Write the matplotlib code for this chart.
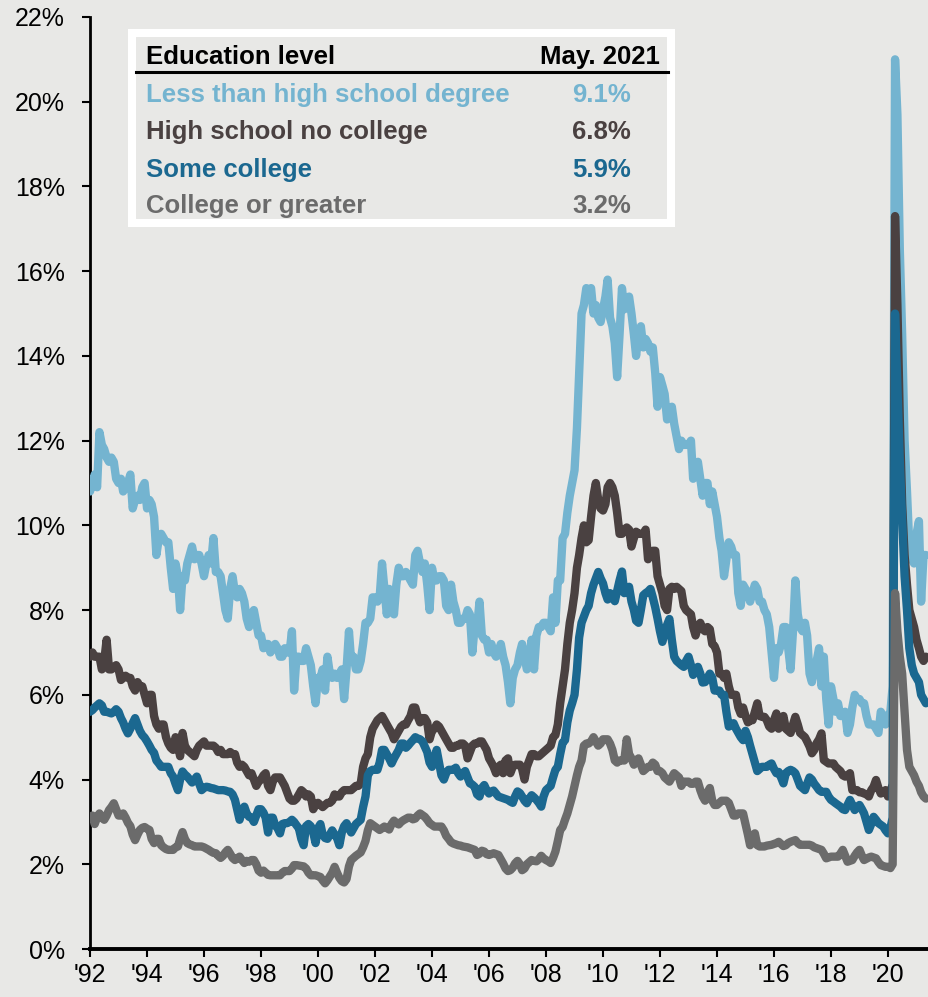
import numpy as np
import pandas as pd
import matplotlib
matplotlib.use('Agg')
import matplotlib.pyplot as plt
from matplotlib.patches import Rectangle
from matplotlib.lines import Line2D

plt.rcParams['font.family'] = ['Liberation Sans', 'DejaVu Sans']

# ---------------- data (monthly, Jan 1992 - May 2021, %) ----------------
start_month = '1992-01-01'

less_than_hs = [
    10.8, 11.0, 11.2, 10.9, 12.2, 11.9, 11.8, 11.6, 11.5, 11.6, 11.5, 11.1,  # 1992
    11.0, 11.1, 10.8, 10.9, 11.0, 11.2, 10.4, 10.6, 10.7, 10.6, 10.9, 11.0,  # 1993
    10.4, 10.6, 10.5, 10.2, 9.3, 9.7, 9.8, 9.7, 9.6, 9.6, 9.0, 8.5,          # 1994
    9.1, 8.8, 8.0, 8.8, 8.7, 9.1, 9.3, 9.5, 9.2, 9.3, 9.3, 9.1,              # 1995
    8.8, 9.1, 9.3, 9.1, 9.7, 8.9, 8.9, 8.8, 8.4, 8.0, 7.8, 8.5,              # 1996
    8.8, 8.4, 8.3, 8.5, 8.4, 8.2, 7.8, 7.6, 7.9, 8.0, 7.7, 7.4,              # 1997
    7.4, 7.1, 7.2, 7.2, 7.0, 7.1, 7.2, 7.1, 6.9, 6.9, 7.1, 7.0,              # 1998
    7.0, 7.5, 6.1, 6.9, 6.9, 6.8, 6.8, 7.1, 6.9, 6.7, 6.2, 5.8,              # 1999
    6.4, 6.4, 6.6, 6.1, 6.9, 6.5, 6.4, 6.5, 6.4, 6.5, 6.6, 5.9,              # 2000
    6.6, 7.5, 6.8, 6.9, 6.6, 6.6, 6.8, 7.2, 7.7, 7.7, 7.8, 8.3,              # 2001
    8.3, 8.2, 8.3, 9.1, 8.5, 7.9, 8.5, 8.3, 7.9, 8.6, 9.0, 8.8,              # 2002
    8.8, 8.9, 8.8, 8.7, 8.6, 9.3, 9.4, 9.1, 8.9, 9.1, 8.6, 8.0,              # 2003
    9.0, 8.7, 8.7, 8.8, 8.8, 8.7, 8.1, 8.0, 8.6, 8.2, 8.0, 7.7,              # 2004
    7.7, 7.8, 7.8, 8.0, 7.9, 7.0, 7.6, 7.6, 8.2, 7.4, 7.3, 7.3,              # 2005
    7.0, 7.2, 7.0, 6.9, 7.0, 7.2, 6.9, 6.7, 6.3, 5.8, 6.4, 6.6,              # 2006
    6.7, 7.0, 7.2, 6.9, 6.6, 6.8, 7.3, 6.6, 7.4, 7.6, 7.6, 7.7,              # 2007
    7.7, 7.6, 7.5, 8.3, 7.7, 8.7, 8.7, 9.7, 9.8, 10.3, 10.7, 11.0,           # 2008
    11.3, 12.3, 13.6, 15.0, 15.2, 15.6, 15.5, 15.6, 15.0, 15.2, 14.9, 14.8,  # 2009
    15.1, 15.4, 15.8, 14.9, 14.7, 14.3, 13.5, 14.5, 15.6, 15.1, 15.2, 15.4,  # 2010
    15.0, 14.5, 14.0, 14.5, 14.7, 14.2, 14.4, 14.3, 14.1, 14.2, 13.6, 12.8,  # 2011
    13.5, 13.3, 13.1, 12.5, 12.7, 12.8, 12.4, 12.1, 11.8, 12.0, 11.9, 11.9,  # 2012
    11.9, 12.0, 11.1, 11.4, 11.5, 11.1, 10.7, 11.0, 11.0, 10.5, 10.8, 10.5,  # 2013
    10.2, 9.7, 9.4, 8.8, 9.2, 9.6, 9.5, 9.3, 9.3, 8.4, 8.1, 8.6,             # 2014
    8.5, 8.4, 8.2, 8.4, 8.6, 8.5, 8.2, 8.2, 8.0, 7.9, 7.6, 7.0,              # 2015
    6.4, 7.1, 7.0, 7.2, 7.6, 7.6, 7.1, 6.6, 7.5, 8.7, 7.9, 7.6,              # 2016
    7.5, 7.7, 7.4, 6.5, 6.3, 6.6, 6.8, 7.1, 6.2, 6.9, 5.9, 5.3,              # 2017
    6.2, 5.9, 5.6, 5.8, 5.5, 5.5, 5.6, 5.1, 5.3, 5.7, 6.0, 5.9,              # 2018
    5.9, 5.8, 5.8, 5.5, 5.3, 5.3, 5.3, 5.2, 5.1, 5.6, 5.5, 5.3,              # 2019
    5.5, 5.6, 6.2, 21.0, 19.7, 16.5, 14.5, 12.0, 10.8, 9.5, 9.2, 9.1,        # 2020
    9.8, 10.1, 8.2, 9.3, 9.3,                                                # 2021
]

high_school = [
    6.9, 7.0, 6.9, 6.9, 6.9, 6.6, 6.8, 7.3, 6.6, 6.6, 6.65, 6.7,
    6.6, 6.35, 6.4, 6.45, 6.4, 6.4, 6.2, 6.1, 6.3, 6.2, 6.2, 6.0,
    5.8, 6.0, 6.0, 5.5, 5.3, 5.2, 5.3, 5.3, 5.0, 4.85, 4.75, 4.7,
    5.0, 4.8, 4.55, 5.1, 4.8, 4.7, 4.65, 4.6, 4.55, 4.7, 4.8, 4.85,
    4.9, 4.8, 4.8, 4.8, 4.8, 4.75, 4.65, 4.7, 4.6, 4.6, 4.6, 4.65,
    4.6, 4.6, 4.4, 4.3, 4.35, 4.3, 4.2, 4.1, 4.15, 4.0, 3.85, 3.95,
    4.0, 4.1, 4.15, 3.85, 3.75, 3.95, 4.05, 4.05, 4.05, 3.95, 3.85, 3.7,
    3.55, 3.5, 3.5, 3.55, 3.65, 3.75, 3.7, 3.6, 3.65, 3.6, 3.3, 3.4,
    3.45, 3.4, 3.35, 3.4, 3.45, 3.45, 3.5, 3.65, 3.6, 3.6, 3.7, 3.75,
    3.75, 3.75, 3.75, 3.8, 3.85, 3.85, 3.9, 4.3, 4.5, 4.6, 5.0, 5.2,
    5.3, 5.4, 5.45, 5.5, 5.4, 5.3, 5.2, 5.1, 4.95, 5.05, 5.15, 5.25,
    5.3, 5.3, 5.4, 5.5, 5.7, 5.7, 5.5, 5.35, 5.45, 5.45, 5.35, 4.95,
    5.15, 5.2, 5.3, 5.25, 5.15, 5.05, 4.95, 4.85, 4.75, 4.75, 4.8, 4.8,
    4.85, 4.85, 4.8, 4.5, 4.65, 4.8, 4.85, 4.85, 4.9, 4.9, 4.8, 4.7,
    4.5, 4.4, 4.3, 4.15, 4.3, 4.35, 4.15, 4.45, 4.5, 4.15, 4.3, 4.35,
    4.35, 4.35, 4.25, 4.0, 4.3, 4.45, 4.6, 4.6, 4.55, 4.55, 4.6, 4.65,
    4.7, 4.75, 4.8, 5.0, 5.05, 5.3, 5.8, 6.2, 6.6, 7.2, 7.7, 8.0,
    8.4, 9.0, 9.3, 9.7, 10.0, 9.6, 9.65, 10.2, 10.7, 11.0, 10.6, 10.4,
    10.35, 10.5, 10.9, 11.0, 10.9, 10.7, 10.3, 9.8, 9.8, 9.9, 9.95, 9.9,
    9.5, 9.7, 9.85, 9.8, 9.8, 9.8, 9.9, 9.2, 9.35, 9.4, 9.4, 8.8,
    8.6, 8.4, 8.1, 8.0, 8.5, 8.55, 8.5, 8.55, 8.5, 8.45, 8.1, 8.0,
    7.95, 7.9, 7.6, 7.4, 7.6, 7.7, 7.55, 7.5, 7.6, 7.55, 7.2, 7.15,
    7.0, 6.5, 6.5, 6.4, 6.5, 6.2, 6.0, 6.0, 6.0, 5.7, 5.55, 5.7,
    5.5, 5.35, 5.4, 5.4, 5.6, 5.8, 5.5, 5.48, 5.48, 5.4, 5.25, 5.2,
    5.4, 5.56, 5.2, 5.3, 5.5, 5.2, 5.15, 5.1, 5.3, 5.48, 5.3, 5.1,
    5.05, 5.0, 4.9, 4.78, 4.62, 4.7, 4.86, 4.95, 5.09, 4.46, 4.42, 4.38,
    4.38, 4.38, 4.3, 4.25, 4.2, 4.1, 4.07, 4.1, 4.15, 3.75, 3.75, 3.75,
    3.7, 3.7, 3.67, 3.65, 3.6, 3.75, 3.83, 3.99, 3.8, 3.67, 3.7, 3.75,
    3.6, 3.66, 3.9, 17.3, 15.2, 12.5, 10.5, 9.3, 8.6, 8.0, 7.8, 7.6,
    7.3, 7.1, 6.9, 6.8, 6.9,
]

some_college = [
    5.6, 5.64, 5.7, 5.75, 5.8, 5.75, 5.6, 5.6, 5.58, 5.56, 5.6, 5.66,
    5.6, 5.45, 5.35, 5.2, 5.09, 5.2, 5.33, 5.45, 5.3, 5.15, 5.05, 4.99,
    4.9, 4.8, 4.7, 4.63, 4.45, 4.38, 4.3, 4.3, 4.3, 4.3, 4.15, 4.07,
    3.9, 3.75, 4.0, 4.19, 4.12, 4.07, 4.0, 3.93, 4.0, 4.07, 3.9, 3.75,
    3.8, 3.83, 3.82, 3.8, 3.79, 3.77, 3.75, 3.75, 3.75, 3.74, 3.72, 3.71,
    3.65, 3.52, 3.3, 3.05, 3.25, 3.36, 3.2, 3.12, 3.1, 3.0, 3.15, 3.3,
    3.3, 3.22, 3.1, 2.75, 3.1, 3.1, 2.92, 2.85, 2.73, 2.95, 2.97, 2.97,
    3.0, 3.05, 3.0, 2.92, 2.85, 2.6, 2.45, 2.9, 2.95, 2.9, 2.75, 2.5,
    2.85, 2.95, 2.7, 2.62, 2.6, 2.7, 2.8, 2.7, 2.62, 2.45, 2.75, 2.9,
    2.97, 2.85, 2.75, 2.85, 2.95, 3.0, 3.05, 3.35, 3.6, 4.1, 4.2, 4.23,
    4.23, 4.23, 4.4, 4.7, 4.7, 4.6, 4.5, 4.38, 4.5, 4.6, 4.7, 4.85,
    4.85, 4.75, 4.8, 4.87, 4.93, 5.0, 4.97, 4.95, 4.9, 4.78, 4.65, 4.4,
    4.3, 4.5, 4.7, 4.4, 4.1, 4.0, 4.15, 4.23, 4.23, 4.23, 4.28, 4.15,
    4.07, 4.15, 4.2, 4.05, 3.91, 3.88, 3.83, 3.65, 3.6, 3.8, 3.87, 3.75,
    3.67, 3.72, 3.74, 3.67, 3.6, 3.58, 3.56, 3.54, 3.52, 3.48, 3.45, 3.6,
    3.72, 3.68, 3.6, 3.5, 3.44, 3.55, 3.63, 3.58, 3.52, 3.45, 3.36, 3.6,
    3.75, 3.8, 3.85, 4.05, 4.23, 4.3, 4.6, 4.87, 4.93, 5.35, 5.63, 5.8,
    6.0, 6.6, 7.35, 7.7, 7.85, 8.0, 8.1, 8.4, 8.6, 8.75, 8.9, 8.75,
    8.63, 8.4, 8.25, 8.4, 8.3, 8.21, 8.45, 8.7, 8.91, 8.4, 8.5, 8.55,
    8.2, 8.0, 7.75, 7.7, 8.0, 8.35, 8.4, 8.44, 8.5, 8.3, 8.07, 7.8,
    7.5, 7.25, 7.45, 7.65, 7.79, 7.3, 6.9, 6.8, 6.75, 6.7, 6.66, 6.8,
    6.9, 6.7, 6.47, 6.55, 6.66, 6.5, 6.29, 6.3, 6.4, 6.5, 6.4, 6.1,
    6.1, 6.1, 6.0, 6.0, 5.6, 5.25, 5.3, 5.33, 5.2, 5.1, 5.0, 4.93,
    5.15, 5.0, 4.8, 4.6, 4.4, 4.2, 4.25, 4.3, 4.3, 4.3, 4.35, 4.38,
    4.25, 4.15, 4.18, 4.05, 3.91, 4.15, 4.2, 4.23, 4.2, 4.15, 4.0, 3.85,
    3.8, 3.75, 3.9, 4.05, 4.0, 3.9, 3.83, 3.75, 3.71, 3.71, 3.71, 3.6,
    3.52, 3.48, 3.44, 3.4, 3.36, 3.3, 3.28, 3.4, 3.52, 3.4, 3.28, 3.35,
    3.4, 3.3, 3.2, 3.0, 2.81, 2.95, 3.12, 3.05, 2.97, 2.93, 2.89, 2.8,
    2.73, 2.85, 3.1, 15.0, 13.3, 11.5, 10.2, 8.8, 8.0, 7.1, 6.7, 6.5,
    6.4, 6.3, 6.0, 5.9, 5.8,
]

college = [
    3.1, 3.15, 2.95, 3.1, 3.2, 3.1, 3.05, 3.15, 3.28, 3.35, 3.44, 3.3,
    3.15, 3.15, 3.2, 3.1, 2.98, 2.9, 2.7, 2.57, 2.7, 2.81, 2.86, 2.88,
    2.84, 2.81, 2.6, 2.5, 2.6, 2.6, 2.45, 2.4, 2.36, 2.34, 2.34, 2.34,
    2.4, 2.42, 2.6, 2.76, 2.6, 2.5, 2.47, 2.45, 2.42, 2.42, 2.42, 2.42,
    2.4, 2.37, 2.34, 2.3, 2.27, 2.26, 2.2, 2.15, 2.2, 2.28, 2.34, 2.25,
    2.15, 2.1, 2.14, 2.18, 2.1, 2.03, 2.08, 2.06, 2.1, 2.1, 2.0, 1.85,
    1.8, 1.85, 1.8, 1.75, 1.74, 1.74, 1.74, 1.74, 1.74, 1.8, 1.84, 1.84,
    1.84, 1.9, 1.98, 1.98, 1.97, 1.96, 1.95, 1.9, 1.8, 1.74, 1.74, 1.74,
    1.72, 1.7, 1.62, 1.55, 1.62, 1.71, 1.8, 1.94, 1.8, 1.68, 1.6, 1.57,
    1.65, 1.95, 2.1, 2.15, 2.2, 2.24, 2.28, 2.4, 2.55, 2.8, 2.97, 2.93,
    2.89, 2.85, 2.81, 2.85, 2.89, 2.86, 2.82, 2.95, 3.03, 2.97, 2.94, 3.0,
    3.04, 3.07, 3.1, 3.1, 3.06, 3.08, 3.15, 3.2, 3.16, 3.12, 3.05, 2.97,
    2.93, 2.89, 2.89, 2.89, 2.89, 2.8, 2.67, 2.6, 2.52, 2.49, 2.47, 2.45,
    2.44, 2.42, 2.41, 2.4, 2.38, 2.36, 2.34, 2.22, 2.25, 2.32, 2.3, 2.24,
    2.22, 2.24, 2.26, 2.24, 2.22, 2.12, 2.02, 1.9, 1.84, 1.86, 1.92, 2.02,
    2.08, 2.0, 1.86, 1.9, 2.0, 2.05, 2.1, 2.08, 2.07, 2.12, 2.2, 2.14,
    2.1, 2.07, 2.03, 2.15, 2.3, 2.55, 2.81, 2.88, 3.05, 3.2, 3.4, 3.6,
    3.85, 4.1, 4.3, 4.45, 4.8, 4.85, 4.85, 4.9, 5.0, 4.9, 4.8, 4.85,
    4.95, 4.95, 4.95, 4.85, 4.7, 4.45, 4.4, 4.45, 4.45, 4.45, 4.95, 4.6,
    4.5, 4.35, 4.45, 4.5, 4.35, 4.2, 4.25, 4.3, 4.3, 4.4, 4.35, 4.2,
    4.2, 4.15, 4.05, 4.0, 3.95, 4.05, 4.15, 4.1, 4.05, 3.85, 3.95, 3.95,
    3.95, 3.9, 3.9, 3.95, 3.95, 3.75, 3.6, 3.5, 3.7, 3.8, 3.5, 3.4,
    3.4, 3.45, 3.5, 3.5, 3.5, 3.45, 3.3, 3.15, 3.15, 3.2, 3.2, 3.2,
    2.95, 2.7, 2.45, 2.6, 2.73, 2.45, 2.42, 2.42, 2.42, 2.44, 2.45, 2.46,
    2.48, 2.5, 2.53, 2.48, 2.43, 2.45, 2.5, 2.53, 2.55, 2.57, 2.5, 2.46,
    2.46, 2.46, 2.46, 2.46, 2.44, 2.4, 2.38, 2.36, 2.34, 2.25, 2.14, 2.16,
    2.18, 2.18, 2.18, 2.18, 2.25, 2.34, 2.2, 2.06, 2.08, 2.1, 2.2, 2.28,
    2.34, 2.2, 2.1, 2.13, 2.16, 2.18, 2.16, 2.14, 2.05, 1.98, 1.96, 1.94,
    1.94, 1.91, 2.0, 8.4, 7.5, 6.9, 6.5, 5.6, 4.7, 4.3, 4.2, 4.1,
    3.95, 3.85, 3.7, 3.6, 3.55,
]

series_names = ['Less than high school degree', 'High school no college',
                'Some college', 'College or greater']
latest_values = ['9.1%', '6.8%', '5.9%', '3.2%']
legend_header = ['Education level', 'May. 2021']
y_ticks = list(range(0, 23, 2))
x_tick_years = list(range(1992, 2021, 2))

# ---------------- styling ----------------
W, H = 929, 997
bg = '#e8e8e6'
colors = ['#74b4d0', '#4a4141', '#1b6890', '#6b6b6b']

fig = plt.figure(figsize=(W / 100, H / 100), dpi=100)
fig.patch.set_facecolor(bg)
ax = fig.add_axes([90 / W, 1 - 949 / H, (929 - 90) / W, (949 - 17) / H])
ax.set_facecolor(bg)

all_series = [less_than_hs, high_school, some_college, college]
for vals, c in zip(all_series, colors):
    dates = pd.date_range(start_month, periods=len(vals), freq='MS')
    ax.plot(dates, vals, color=c, lw=6.0, solid_joinstyle='round',
            solid_capstyle='round', zorder=3)

ax.set_ylim(0, 22)
ax.set_xlim(pd.Timestamp('1992-01-01'), pd.Timestamp('2021-06-10'))
ax.set_yticks(y_ticks)
ax.set_yticklabels([f'{v}%' for v in y_ticks])
ax.set_xticks([pd.Timestamp(f'{y}-01-01') for y in x_tick_years])
ax.set_xticklabels([f"'{str(y)[2:]}" for y in x_tick_years])

for s in ['top', 'right']:
    ax.spines[s].set_visible(False)
ax.spines['left'].set_linewidth(2.0)
ax.spines['bottom'].set_linewidth(2.8)
ax.spines['bottom'].set_zorder(5)
ax.tick_params(axis='y', direction='out', length=6, width=1.5,
               labelsize=18, pad=12, colors='black')
ax.tick_params(axis='x', direction='out', length=6, width=1.5,
               labelsize=18, pad=4, colors='black')

# ---------------- legend table ----------------
def fx(px):
    return px / W

def fy(py):
    return 1 - py / H

box = Rectangle((fx(132), fy(223.5)), (671.5 - 132) / W, (223.5 - 33) / H,
                transform=fig.transFigure, facecolor=bg, edgecolor='white',
                linewidth=5.8, zorder=10)
fig.add_artist(box)
fig.add_artist(Line2D([fx(136), fx(668)], [fy(72), fy(72)],
                      transform=fig.transFigure, color='black', lw=2.2, zorder=11))

fs = 18.5
fig.text(fx(146), fy(64), legend_header[0], fontsize=fs, fontweight='bold',
         color='black', ha='left', va='baseline', zorder=12)
fig.text(fx(660), fy(64), legend_header[1], fontsize=fs, fontweight='bold',
         color='black', ha='right', va='baseline', zorder=12)
row_base = [101.7, 139.0, 176.5, 213.0]
for name, val, c, yb in zip(series_names, latest_values, colors, row_base):
    fig.text(fx(146), fy(yb), name, fontsize=fs, fontweight='bold', color=c,
             ha='left', va='baseline', zorder=12)
    fig.text(fx(631), fy(yb), val, fontsize=fs, fontweight='bold', color=c,
             ha='right', va='baseline', zorder=12)

fig.savefig('out.png', dpi=100, facecolor=bg)
